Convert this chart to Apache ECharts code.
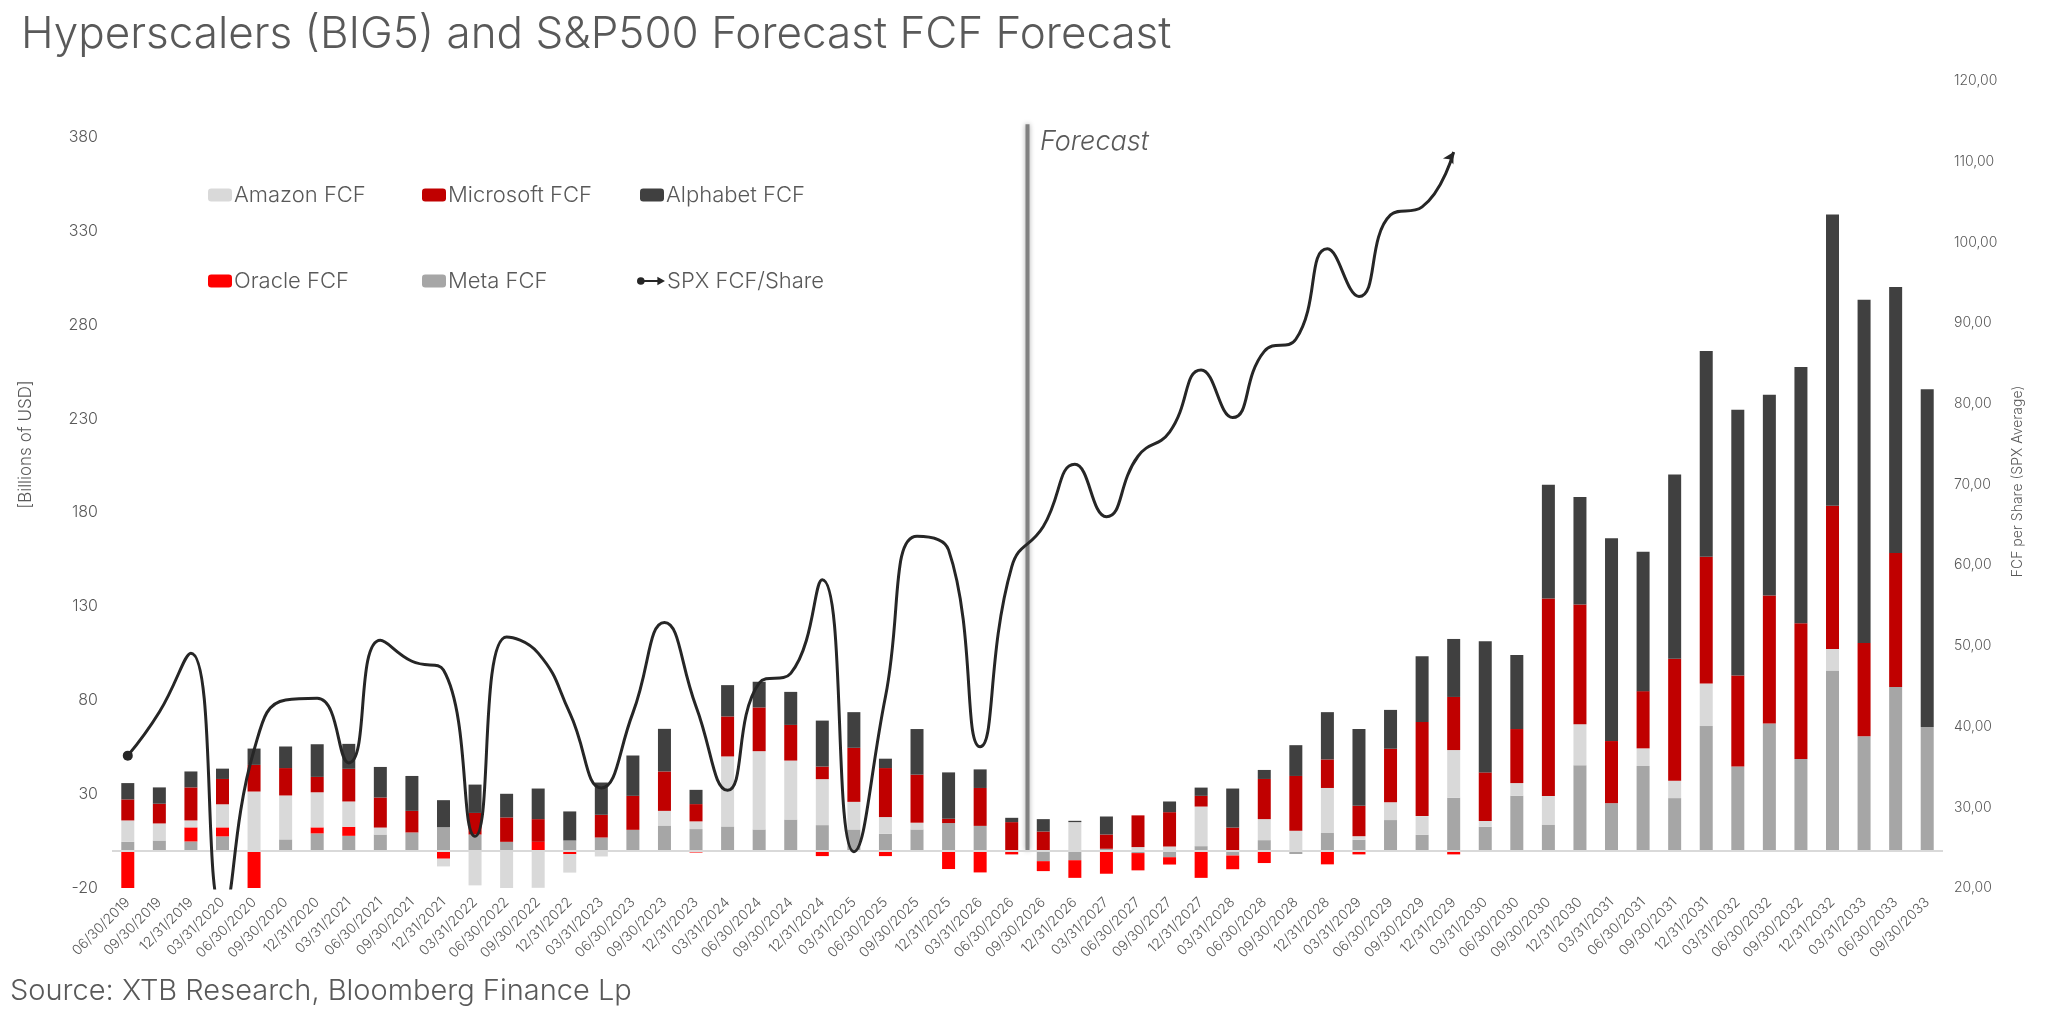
<!DOCTYPE html>
<html>
<head>
<meta charset="utf-8">
<title>Hyperscalers (BIG5) and S&amp;P500 Forecast FCF Forecast</title>
<script src="https://cdn.jsdelivr.net/npm/echarts@6/dist/echarts.min.js"></script>
<style>
  html, body { margin: 0; padding: 0; background: #fff; }
  #chart { width: 2048px; height: 1018px; }
</style>
</head>
<body>
<div id="chart"></div>
<script>
// quarter ends
const quarters = [
  '06/30/2019', '09/30/2019', '12/31/2019',
  '03/31/2020', '06/30/2020', '09/30/2020', '12/31/2020',
  '03/31/2021', '06/30/2021', '09/30/2021', '12/31/2021',
  '03/31/2022', '06/30/2022', '09/30/2022', '12/31/2022',
  '03/31/2023', '06/30/2023', '09/30/2023', '12/31/2023',
  '03/31/2024', '06/30/2024', '09/30/2024', '12/31/2024',
  '03/31/2025', '06/30/2025', '09/30/2025', '12/31/2025',
  '03/31/2026', '06/30/2026', '09/30/2026', '12/31/2026',
  '03/31/2027', '06/30/2027', '09/30/2027', '12/31/2027',
  '03/31/2028', '06/30/2028', '09/30/2028', '12/31/2028',
  '03/31/2029', '06/30/2029', '09/30/2029', '12/31/2029',
  '03/31/2030', '06/30/2030', '09/30/2030', '12/31/2030',
  '03/31/2031', '06/30/2031', '09/30/2031', '12/31/2031',
  '03/31/2032', '06/30/2032', '09/30/2032', '12/31/2032',
  '03/31/2033', '06/30/2033', '09/30/2033'
]

// FCF per company, billions of USD (stack order bottom -> top)
const metaFcf = [
  4.6, 5.3, 4.8, 7.5, 0, 5.9, 9.1, 7.8, 8.5, 9.6, 12.4, 8.5,
  4.6, 0, 5.3, 6.9, 11, 13.3, 11.4, 12.8, 11.2, 16.5, 13.5, 11.2,
  8.9, 11.2, 14.6, 13.1, 0, -5.7, -5.2, 0.9, -1.4, -3.6, 2.3, -2.7,
  5.5, -1.9, 9.3, 5.7, 16.2, 8.3, 28.1, 12.6, 29.2, 13.8, 45.4, 25.2,
  45, 27.9, 66.3, 44.8, 67.7, 48.7, 95.9, 60.9, 87.1, 65.8
]
const oracleFcf = [
  -20, 0, 7.5, 4.8, -20, 0, 3.2, 4.8, 0, 0, -4.4, 0,
  0, 4.6, -2, 0, 0, 0, -1.1, 0, 0, 0, -3, 0,
  -3, 0, -9.9, -11.7, -2.1, -5.3, -9.4, -12.4, -9.2, -3.9, -14.6, -7.3,
  -6.7, 0, -7.4, -2.1, 0, 0, -2.1, 0, 0, 0, 0, 0,
  0, 0, 0, 0, 0, 0, 0, 0, 0, 0
]
const amazonFcf = [
  11.4, 9.1, 3.7, 12.3, 31.4, 23.4, 18.7, 13.5, 3.7, 0, -4.1, -18.6,
  -20, -19.9, -9.8, -3.2, 0, 7.8, 4.1, 37.3, 41.7, 31.4, 24.5, 14.7,
  8.9, 3.6, 0, 0, 0, 0, 15.1, 0, 1.8, 2.1, 21.1, 0,
  11.2, 10.5, 24, 1.9, 9.5, 10, 25.4, 3.1, 6.7, 15.2, 21.9, 0,
  9.4, 9.3, 22.7, 0, 0, 0, 11.5, 0, 0, 0
]
const microsoftFcf = [
  11.2, 10.5, 17.6, 13.5, 14.2, 14.6, 8.2, 17.4, 16, 11.5, 0, 11.5,
  13, 12.1, 0, 12.1, 18.1, 21, 9.2, 21.3, 23.3, 19, 6.7, 28.8,
  26.1, 25.6, 2.3, 20.2, 15.1, 10.1, 0, 7.6, 16.9, 18.3, 5.7, 12.2,
  21.4, 29.2, 15.2, 16.2, 28.5, 50.2, 28.3, 25.9, 28.8, 105.3, 63.7, 33.1,
  30.5, 65, 67.5, 48.4, 68.2, 72.4, 76.3, 49.6, 71.4, 0
]
const alphabetFcf = [
  8.7, 8.7, 8.5, 5.5, 8.7, 11.5, 17.4, 13.3, 16.3, 18.6, 14.4, 15.1,
  12.6, 16.3, 15.5, 17.2, 21.5, 22.7, 7.6, 16.7, 13.7, 17.6, 24.5, 19,
  5, 24.3, 24.7, 9.9, 2.3, 6.6, 0.7, 9.6, 0, 5.7, 4.4, 20.8,
  4.8, 16.4, 25.2, 40.9, 20.7, 35, 30.9, 69.9, 39.5, 60.6, 57.3, 108,
  74.3, 98.1, 109.6, 141.6, 106.9, 136.5, 155.1, 182.9, 141.8, 180
]

// SPX FCF per share (right axis), ends 12/31/2029
const spxFcfPerShare = [
  36.4, 41.8, 49.1, 17, 37.1, 43.3, 43.5, 35.5, 50.7, 48.1, 47, 26.4,
  51.1, 49.1, 41.7, 32.4, 41.7, 52.9, 42.5, 32.1, 45.4, 46.6, 58.2, 24.5,
  43.7, 63.6, 61.9, 37.5, 59.8, 64.8, 72.5, 66, 73.5, 76.5, 84.2, 78.3,
  86.5, 88, 99.2, 93.3, 103.4, 104.4, 111.2
]

const leftTicks = [-20, 30, 80, 130, 180, 230, 280, 330, 380]
// forecast divider: between 06/30/2026 (idx 28) and 09/30/2026 (idx 29)
const forecastStart = 28.5
const forecastSpan = [0, 387]

const FONT = 'Inter'
const TEXT = '#595959'
const SPX_ICON = 'path://M0,6A4.5,4.5 0 1,1 9,6A4.5,4.5 0 1,1 0,6Z M7,4.8H27V7.2H7Z M24,1L33,6L24,11Z'

const chart = echarts.init(document.getElementById('chart'))

function barSeries(name, data, color, extra) {
  return Object.assign({
    name,
    type: 'bar',
    stack: 'fcf',
    data,
    barWidth: 13,
    itemStyle: { color },
  }, extra || {})
}

// one legend per item so the columns line up like the original
function legendItem(item, left, top) {
  return {
    data: [item],
    left,
    top,
    itemWidth: 24,
    itemHeight: 13,
    itemGap: 4,
    selectedMode: false,
    textStyle: { fontFamily: FONT, fontSize: 22, fontWeight: 300, color: TEXT, padding: [0, 0, 0, -3] },
  }
}

const lineData = spxFcfPerShare.map((v, i) => {
  if (i === 0) return { value: v, symbol: 'circle', symbolSize: 10 }
  if (i === spxFcfPerShare.length - 1) return { value: v, symbol: 'arrow', symbolSize: [9, 11], symbolRotate: -30 }
  return v
})

const option = {
  animation: false,
  backgroundColor: '#fff',
  textStyle: { fontFamily: FONT },
  title: {
    text: 'Hyperscalers (BIG5) and S&P500 Forecast FCF Forecast',
    left: 16,
    top: 8,
    textStyle: { fontFamily: FONT, fontSize: 44, fontWeight: 300, color: TEXT },
  },
  graphic: [
    {
      type: 'text',
      left: 1040,
      top: 128,
      style: { text: 'Forecast', fontFamily: FONT, fontSize: 27, fontStyle: 'italic', fontWeight: 300, fill: TEXT },
    },
    {
      type: 'text',
      left: 10,
      top: 977,
      style: { text: 'Source: XTB Research, Bloomberg Finance Lp', fontFamily: FONT, fontSize: 29, fontWeight: 300, fill: TEXT },
    },
  ],
  legend: [
    legendItem('Amazon FCF', 203, 179),
    legendItem('Microsoft FCF', 417, 179),
    legendItem('Alphabet FCF', 635, 179),
    legendItem('Oracle FCF', 203, 265),
    legendItem('Meta FCF', 417, 265),
    Object.assign(legendItem({ name: 'SPX FCF/Share', icon: SPX_ICON }, 632, 265), { itemWidth: 28 }),
  ],
  grid: { left: 112, right: 105, top: 81, bottom: 130, containLabel: false },
  xAxis: [
    {
      type: 'category',
      data: quarters,
      axisLine: { show: false, onZero: false },
      axisTick: { show: false },
      axisLabel: { interval: 0, rotate: 45, fontSize: 14, fontWeight: 300, color: TEXT, margin: 12, padding: [14, 0, 0, 0] },
      splitLine: { show: false },
    },
    {
      // hidden helper axis for the forecast divider
      type: 'value',
      show: false,
      min: -0.5,
      max: quarters.length - 0.5,
    },
  ],
  yAxis: [
    {
      type: 'value',
      min: -20,
      max: 410,
      name: '[Billions of USD]',
      nameLocation: 'middle',
      nameRotate: 90,
      nameGap: 78,
      nameTextStyle: { fontSize: 17, fontWeight: 300, color: TEXT, padding: [0, 0, 0, 80] },
      axisLine: { show: false },
      axisTick: { show: false },
      splitLine: { show: false },
      axisLabel: { customValues: leftTicks, fontSize: 16, fontWeight: 300, color: TEXT, margin: 14 },
    },
    {
      type: 'value',
      position: 'right',
      min: 20,
      max: 120,
      interval: 10,
      name: 'FCF per Share (SPX Average)',
      nameLocation: 'middle',
      nameRotate: 90,
      nameGap: 68,
      nameTextStyle: { fontSize: 14, fontWeight: 300, color: TEXT, padding: [0, 0, 0, 6] },
      axisLine: { show: false },
      axisTick: { show: false },
      splitLine: { show: false },
      axisLabel: { fontSize: 14, fontWeight: 300, color: TEXT, margin: 11, formatter: v => v.toFixed(2).replace('.', ',') },
    },
  ],
  series: [
    barSeries('Meta FCF', metaFcf, '#a6a6a6', {
      markLine: {
        silent: true,
        symbol: 'none',
        label: { show: false },
        lineStyle: { color: '#d9d9d9', width: 2, type: 'solid' },
        data: [{ yAxis: 0 }],
      },
    }),
    barSeries('Oracle FCF', oracleFcf, '#ff0000'),
    barSeries('Amazon FCF', amazonFcf, '#d9d9d9'),
    barSeries('Microsoft FCF', microsoftFcf, '#c00000'),
    barSeries('Alphabet FCF', alphabetFcf, '#404040'),
    {
      name: 'Forecast',
      type: 'line',
      xAxisIndex: 1,
      yAxisIndex: 0,
      data: forecastSpan.map(v => [forecastStart, v]),
      symbol: 'none',
      silent: true,
      lineStyle: { color: '#808080', width: 4, shadowBlur: 5, shadowColor: 'rgba(0,0,0,0.35)' },
      z: 3,
    },
    {
      name: 'SPX FCF/Share',
      type: 'line',
      yAxisIndex: 1,
      data: lineData,
      smooth: 0.5,
      symbol: 'none',
      showSymbol: true,
      showAllSymbol: true,
      lineStyle: { color: '#262626', width: 3 },
      itemStyle: { color: '#262626' },
      z: 5,
    },
  ],
}

chart.setOption(option)
window.addEventListener('resize', () => chart.resize())
</script>
</body>
</html>
